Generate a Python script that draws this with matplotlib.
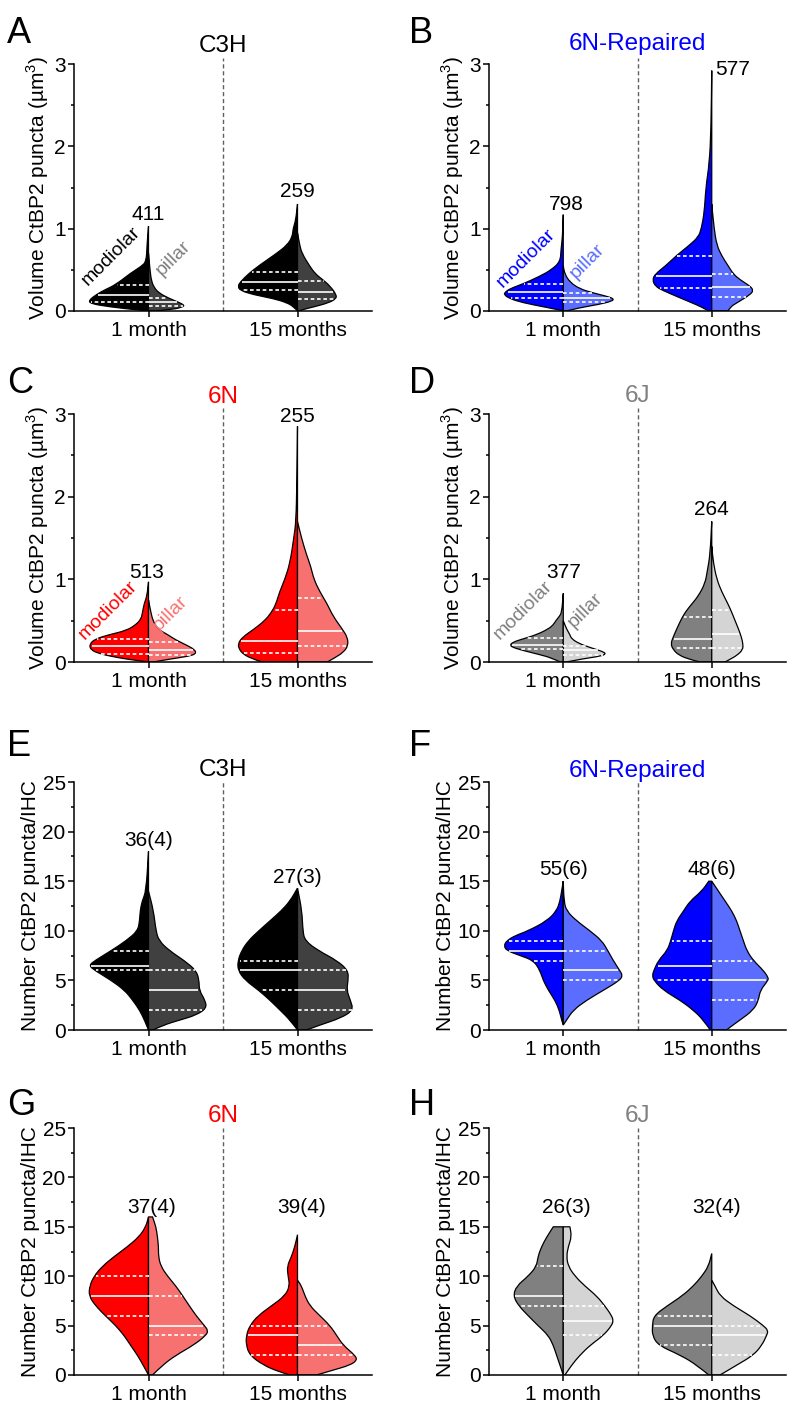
import numpy as np
import matplotlib
matplotlib.use('Agg')
import matplotlib.pyplot as plt
from matplotlib.path import Path
from matplotlib.patches import PathPatch
from matplotlib.ticker import MultipleLocator
import matplotlib.transforms as mtransforms

plt.rcParams['font.family'] = ['Liberation Sans', 'DejaVu Sans']
plt.rcParams['mathtext.fontset'] = 'custom'
plt.rcParams['mathtext.rm'] = 'Liberation Sans'

groups = ['1 month', '15 months']
strains = ['C3H', '6N-Repaired', '6N', '6J']
vol_counts = [['411', '259'], ['798', '577'], ['513', '255'], ['377', '264']]
num_counts = [['36(4)', '27(3)'], ['55(6)', '48(6)'], ['37(4)', '39(4)'], ['26(3)', '32(4)']]

# half-violin profiles: y levels (bottom -> top), half widths, quartiles [q1, median, q3]
# --- Volume, C3H
A1_mod_y = [0, 0.01, 0.05, 0.09, 0.13, 0.2, 0.26, 0.32, 0.46, 0.54, 0.6, 0.8, 1.03]
A1_mod_w = [0, 0.06, 0.26, 0.39, 0.40, 0.35, 0.29, 0.22, 0.12, 0.05, 0.015, 0.01, 0]
A1_mod_q = [0.11, 0.20, 0.32]
A1_pil_y = [0, 0.02, 0.05, 0.07, 0.1, 0.16, 0.22, 0.28, 0.36, 0.5, 0.7]
A1_pil_w = [0.04, 0.17, 0.23, 0.24, 0.21, 0.13, 0.07, 0.04, 0.02, 0.01, 0]
A1_pil_q = [0.065, 0.11, 0.16]
A2_mod_y = [0, 0.05, 0.1, 0.15, 0.2, 0.25, 0.3, 0.35, 0.45, 0.55, 0.7, 0.8, 0.9, 1.0, 1.1, 1.3]
A2_mod_w = [0, 0.025, 0.07, 0.16, 0.30, 0.385, 0.40, 0.385, 0.33, 0.26, 0.14, 0.07, 0.035, 0.03, 0.012, 0]
A2_mod_q = [0.25, 0.35, 0.47]
A2_pil_y = [0, 0.02, 0.05, 0.1, 0.15, 0.2, 0.3, 0.38, 0.45, 0.55, 0.7, 0.8, 0.95]
A2_pil_w = [0.01, 0.04, 0.11, 0.21, 0.26, 0.26, 0.22, 0.17, 0.12, 0.08, 0.03, 0.015, 0]
A2_pil_q = [0.15, 0.23, 0.36]
# --- Volume, 6N-Repaired
B1_mod_y = [0, 0.01, 0.05, 0.1, 0.15, 0.2, 0.23, 0.27, 0.33, 0.42, 0.5, 0.6, 0.75, 0.9, 1.17]
B1_mod_w = [0, 0.02, 0.13, 0.27, 0.36, 0.40, 0.39, 0.36, 0.27, 0.16, 0.08, 0.02, 0.015, 0.005, 0]
B1_mod_q = [0.155, 0.235, 0.33]
B1_pil_y = [0, 0.04, 0.08, 0.12, 0.15, 0.18, 0.22, 0.27, 0.35, 0.45, 0.55]
B1_pil_w = [0.02, 0.11, 0.24, 0.33, 0.34, 0.29, 0.2, 0.11, 0.045, 0.01, 0]
B1_pil_q = [0.105, 0.16, 0.22]
B2_mod_y = [0, 0.05, 0.1, 0.18, 0.25, 0.3, 0.38, 0.45, 0.55, 0.67, 0.8, 0.9, 1.0, 1.2, 1.5, 1.8, 2.2, 2.92]
B2_mod_w = [0.02, 0.07, 0.135, 0.24, 0.33, 0.38, 0.40, 0.38, 0.31, 0.24, 0.15, 0.09, 0.07, 0.05, 0.04, 0.016, 0.005, 0]
B2_mod_q = [0.28, 0.42, 0.67]
B2_pil_y = [0, 0.05, 0.1, 0.2, 0.25, 0.3, 0.38, 0.45, 0.55, 0.67, 0.8, 1.0, 1.3]
B2_pil_w = [0.11, 0.125, 0.17, 0.26, 0.28, 0.26, 0.19, 0.145, 0.11, 0.067, 0.034, 0.016, 0]
B2_pil_q = [0.175, 0.29, 0.45]
# --- Volume, 6N
C1_mod_y = [0, 0.02, 0.05, 0.1, 0.15, 0.22, 0.28, 0.33, 0.38, 0.45, 0.52, 0.6, 0.7, 0.8, 0.97]
C1_mod_w = [0, 0.085, 0.2, 0.33, 0.39, 0.395, 0.355, 0.265, 0.15, 0.085, 0.05, 0.04, 0.03, 0.01, 0]
C1_mod_q = [0.10, 0.19, 0.275]
C1_pil_y = [0, 0.04, 0.07, 0.1, 0.15, 0.2, 0.27, 0.33, 0.4, 0.5, 0.6, 0.75]
C1_pil_w = [0.03, 0.16, 0.27, 0.32, 0.31, 0.26, 0.18, 0.13, 0.06, 0.03, 0.016, 0]
C1_pil_q = [0.09, 0.15, 0.24]
C2_mod_y = [0, 0.05, 0.1, 0.15, 0.22, 0.3, 0.4, 0.5, 0.6, 0.7, 0.85, 1.0, 1.2, 1.5, 1.7, 2.2, 2.85]
C2_mod_w = [0.24, 0.32, 0.366, 0.39, 0.40, 0.37, 0.29, 0.22, 0.175, 0.145, 0.12, 0.085, 0.05, 0.025, 0.01, 0.004, 0]
C2_mod_q = [0.11, 0.25, 0.635]
C2_pil_y = [0, 0.05, 0.12, 0.2, 0.3, 0.4, 0.55, 0.7, 0.85, 1.0, 1.15, 1.3, 1.5, 1.7]
C2_pil_w = [0.2, 0.25, 0.31, 0.34, 0.335, 0.3, 0.24, 0.2, 0.15, 0.11, 0.09, 0.06, 0.027, 0]
C2_pil_q = [0.195, 0.375, 0.77]
# --- Volume, 6J
D1_mod_y = [0, 0.05, 0.09, 0.13, 0.17, 0.2, 0.24, 0.28, 0.33, 0.4, 0.45, 0.5, 0.55, 0.6, 0.83]
D1_mod_w = [0.02, 0.08, 0.16, 0.25, 0.33, 0.36, 0.34, 0.27, 0.18, 0.10, 0.067, 0.05, 0.027, 0.01, 0]
D1_mod_q = [0.16, 0.21, 0.29]
D1_pil_y = [0, 0.04, 0.07, 0.1, 0.13, 0.17, 0.22, 0.28, 0.33, 0.4, 0.5]
D1_pil_w = [0.02, 0.135, 0.25, 0.29, 0.26, 0.19, 0.11, 0.056, 0.045, 0.022, 0]
D1_pil_q = [0.09, 0.14, 0.19]
D2_mod_y = [0, 0.03, 0.08, 0.15, 0.22, 0.3, 0.4, 0.5, 0.6, 0.7, 0.8, 0.95, 1.1, 1.3, 1.7]
D2_mod_w = [0.08, 0.146, 0.22, 0.26, 0.276, 0.26, 0.236, 0.21, 0.18, 0.135, 0.09, 0.045, 0.03, 0.011, 0]
D2_mod_q = [0.17, 0.275, 0.55]
D2_pil_y = [0, 0.03, 0.08, 0.15, 0.22, 0.3, 0.4, 0.5, 0.6, 0.7, 0.85, 1.0, 1.2, 1.4]
D2_pil_w = [0.09, 0.12, 0.17, 0.21, 0.21, 0.2, 0.18, 0.157, 0.135, 0.11, 0.067, 0.034, 0.011, 0]
D2_pil_q = [0.17, 0.34, 0.625]
# --- Number, C3H
E1_mod_y = [0, 1, 2, 3, 4, 5, 6, 6.5, 7, 8, 9, 10, 11, 12, 13, 14, 18]
E1_mod_w = [0, 0.027, 0.06, 0.106, 0.16, 0.25, 0.36, 0.40, 0.36, 0.25, 0.15, 0.072, 0.06, 0.056, 0.043, 0.016, 0]
E1_mod_q = [6, 6.5, 8]
E1_pil_y = [0, 0.5, 1, 1.5, 2.2, 3, 4, 5, 6, 7, 8, 9, 10, 12, 14]
E1_pil_w = [0.03, 0.1, 0.21, 0.32, 0.39, 0.38, 0.34, 0.34, 0.32, 0.24, 0.14, 0.07, 0.05, 0.034, 0]
E1_pil_q = [2, 4, 6]
E2_mod_y = [0, 1, 2, 3, 4, 5, 6, 7, 8, 9, 10, 11, 12, 13, 14.3]
E2_mod_w = [0, 0.05, 0.117, 0.185, 0.26, 0.35, 0.40, 0.40, 0.375, 0.33, 0.26, 0.185, 0.11, 0.05, 0]
E2_mod_q = [4, 6, 7]
E2_pil_y = [0, 0.5, 1.2, 2, 3, 4, 5, 6, 7, 8, 9, 10, 12, 14.3]
E2_pil_w = [0.06, 0.15, 0.29, 0.375, 0.355, 0.33, 0.34, 0.34, 0.265, 0.14, 0.05, 0.036, 0.03, 0]
E2_pil_q = [2, 4, 6]
# --- Number, 6N-Repaired
F1_mod_y = [0.5, 1, 2, 3, 4, 5, 6, 7, 7.5, 8, 8.5, 9, 9.5, 10, 11, 12, 13, 14, 15]
F1_mod_w = [0, 0.011, 0.027, 0.056, 0.1, 0.135, 0.157, 0.2, 0.29, 0.38, 0.40, 0.38, 0.326, 0.236, 0.11, 0.045, 0.022, 0.011, 0]
F1_mod_q = [7, 8, 9]
F1_pil_y = [0.5, 1, 2, 3, 4, 5, 5.5, 6, 7, 8, 9, 10, 11, 12, 13, 15]
F1_pil_w = [0, 0.022, 0.067, 0.157, 0.27, 0.38, 0.40, 0.38, 0.337, 0.3, 0.26, 0.18, 0.09, 0.022, 0.005, 0]
F1_pil_q = [5, 6, 8]
F2_mod_y = [0, 1, 2, 3, 4, 5, 5.5, 6, 7, 8, 9, 10, 11, 12, 13, 14, 15]
F2_mod_w = [0.01, 0.056, 0.124, 0.213, 0.326, 0.39, 0.40, 0.39, 0.36, 0.3, 0.276, 0.258, 0.236, 0.19, 0.146, 0.067, 0.02]
F2_mod_q = [5, 6.5, 9]
F2_pil_y = [0, 0.3, 1, 2, 3, 4, 5, 5.3, 6, 7, 8, 9, 10, 11, 12, 13, 14, 15]
F2_pil_w = [0.1, 0.124, 0.19, 0.28, 0.315, 0.326, 0.38, 0.38, 0.348, 0.28, 0.236, 0.213, 0.19, 0.168, 0.135, 0.09, 0.045, 0]
F2_pil_q = [3, 5, 7]
# --- Number, 6N
G1_mod_y = [0, 1, 2, 3, 4, 5, 6, 7, 8, 9, 10, 11, 12, 13, 14, 15, 16]
G1_mod_w = [0, 0.036, 0.074, 0.12, 0.164, 0.22, 0.29, 0.355, 0.40, 0.395, 0.366, 0.31, 0.23, 0.14, 0.063, 0.018, 0]
G1_mod_q = [6, 8, 10]
G1_pil_y = [0, 1, 2, 3, 4, 4.5, 5, 6, 7, 8, 9, 10, 11, 12, 13, 14, 15, 16]
G1_pil_w = [0.027, 0.094, 0.184, 0.3, 0.386, 0.40, 0.375, 0.32, 0.274, 0.23, 0.184, 0.128, 0.083, 0.067, 0.067, 0.06, 0.05, 0.027]
G1_pil_q = [4, 5, 8]
G2_mod_y = [0, 0.3, 1, 2, 3, 4, 5, 6, 7, 8, 9, 10, 11, 12, 13, 14.2]
G2_mod_w = [0.05, 0.12, 0.23, 0.32, 0.344, 0.344, 0.32, 0.265, 0.175, 0.085, 0.052, 0.063, 0.07, 0.04, 0.018, 0]
G2_mod_q = [2, 4, 5]
G2_pil_y = [0, 0.5, 1, 1.5, 2, 3, 4, 5, 6, 7, 8, 9, 9.6]
G2_pil_w = [0.128, 0.24, 0.353, 0.40, 0.386, 0.307, 0.263, 0.218, 0.15, 0.083, 0.05, 0.027, 0]
G2_pil_q = [2, 3, 5]
# --- Number, 6J
H1_mod_y = [0, 1, 2, 3, 4, 5, 6, 7, 8, 9, 10, 11, 12, 13, 14, 15]
H1_mod_w = [0, 0.022, 0.045, 0.067, 0.1, 0.17, 0.236, 0.3, 0.337, 0.315, 0.236, 0.18, 0.17, 0.146, 0.11, 0.067]
H1_mod_q = [7, 8, 11]
H1_pil_y = [0, 1, 2, 3, 4, 5, 5.5, 6, 7, 8, 9, 10, 11, 12, 13, 14, 15]
H1_pil_w = [0.011, 0.056, 0.112, 0.18, 0.27, 0.326, 0.337, 0.326, 0.28, 0.225, 0.146, 0.079, 0.034, 0.022, 0.034, 0.056, 0.045]
H1_pil_q = [4, 5.5, 7]
H2_mod_y = [0, 1, 2, 3, 4, 5, 6, 7, 8, 9, 10, 11, 12.3]
H2_mod_w = [0.02, 0.1, 0.21, 0.36, 0.40, 0.40, 0.39, 0.3, 0.2, 0.124, 0.067, 0.022, 0]
H2_mod_q = [3, 5, 6]
H2_pil_y = [0, 1, 2, 3, 4, 4.5, 5, 6, 7, 8, 9, 9.6]
H2_pil_w = [0.056, 0.168, 0.28, 0.337, 0.37, 0.38, 0.348, 0.258, 0.146, 0.056, 0.022, 0]
H2_pil_q = [2, 4, 5]

# colours per strain: modiolar fill, pillar fill, title, modiolar label, pillar label
mod_colors = ['#000000', '#0000FF', '#FF0000', '#808080']
pil_colors = ['#404040', '#5A6DFF', '#F87171', '#D4D4D4']
title_colors = ['#000000', '#0000FF', '#FF0000', '#808080']
modlab_colors = ['#000000', '#0000FF', '#FF0000', '#808080']
pillab_colors = ['#808080', '#5A6DFF', '#F87171', '#808080']

V = {}
for g in 'ABCDEFGH':
    for k in (1, 2):
        for s in ('mod', 'pil'):
            V[(g, k, s)] = (globals()[f'{g}{k}_{s}_y'], globals()[f'{g}{k}_{s}_w'], globals()[f'{g}{k}_{s}_q'])

# ---- layout (pixels of the 800x1411 figure) ----
W, H = 800, 1411
col_x = [(74, 372), (489, 786)]
row_y = [(64, 311), (414, 662), (782, 1030), (1128, 1375)]
title_off = [12, 14, 11, 12, 6, 5, 6, 6]
letter_base = [43, 43, 393, 393, 756, 756, 1115, 1115]
count_pos = [[(0.0, 1.1, 'center'), (1.0, 1.39, 'center')],
             [(0.02, 1.23, 'center'), (1.02, 2.87, 'left')],
             [(-0.01, 1.02, 'center'), (1.0, 2.9, 'center')],
             [(0.0, 1.02, 'center'), (1.0, 1.78, 'center')],
             [(0.0, 18.5, 'center'), (1.0, 14.8, 'center')],
             [(0.0, 15.65, 'center'), (1.0, 15.65, 'center')],
             [(0.02, 16.4, 'center'), (1.03, 16.4, 'center')],
             [(0.02, 16.4, 'center'), (1.03, 16.4, 'center')]]
side_lab_pos = [[(-0.25, 0.66), (0.17, 0.64)],
                [(-0.25, 0.64), (0.16, 0.61)],
                [(-0.27, 0.63), (0.15, 0.59)],
                [(-0.27, 0.63), (0.15, 0.62)]]


def half_violin(ax, x0, ys, ws, side, color):
    ys = np.asarray(ys, float)
    xs = x0 + side * np.asarray(ws, float)
    pts = np.column_stack([xs, ys])
    verts = [(x0, ys[0]), tuple(pts[0])]
    codes = [Path.MOVETO, Path.LINETO]
    for i in range(1, len(pts) - 1):
        mid = (pts[i] + pts[i + 1]) / 2
        verts += [tuple(pts[i]), tuple(mid)]
        codes += [Path.CURVE3, Path.CURVE3]
    verts += [tuple(pts[-1]), (x0, ys[-1]), (x0, ys[0])]
    codes += [Path.LINETO, Path.LINETO, Path.CLOSEPOLY]
    ax.add_patch(PathPatch(Path(verts, codes), facecolor=color, edgecolor='black', lw=0.9, zorder=2))


def quartiles(ax, x0, ys, ws, qs, side):
    for i, q in enumerate(qs):
        w = np.interp(q, ys, ws) * 0.97
        ls = '-' if i == 1 else (0, (2.2, 1.6))
        ax.plot([x0, x0 + side * w], [q, q], color='white', lw=1.2, ls=ls, zorder=3,
                solid_capstyle='butt', dash_capstyle='butt')


fig = plt.figure(figsize=(W / 100, H / 100), dpi=100)
letters = 'ABCDEFGH'
for p in range(8):
    r, c = divmod(p, 2)
    x0, x1 = col_x[c]
    yt, yb = row_y[r]
    ax = fig.add_axes([x0 / W, 1 - yb / H, (x1 - x0) / W, (yb - yt) / H])
    si = p % 4
    g = letters[p]
    volume = p < 4
    for k in range(2):
        for s, side, col in (('mod', -1, mod_colors[si]), ('pil', 1, pil_colors[si])):
            ys, ws, qs = V[(g, k + 1, s)]
            half_violin(ax, k, ys, ws, side, col)
            quartiles(ax, k, ys, ws, qs, side)
    ymax = 3 if volume else 25
    ax.set_xlim(-0.5, 1.5)
    ax.set_ylim(0, ymax)
    ax.plot([0.5, 0.5], [0, ymax * (1.025 if volume else 1.0)], color='#606060', lw=1,
            ls=(0, (3, 2)), clip_on=False, zorder=1)
    for sp in ('top', 'right'):
        ax.spines[sp].set_visible(False)
    for sp in ('left', 'bottom'):
        ax.spines[sp].set_linewidth(1.1)
    ax.yaxis.set_major_locator(MultipleLocator(1 if volume else 5))
    ax.yaxis.set_minor_locator(MultipleLocator(0.5 if volume else 2.5))
    ax.set_xticks([0, 1])
    ax.set_xticklabels(groups)
    ax.tick_params(axis='both', which='major', labelsize=15, length=4, width=1.1, pad=2)
    ax.tick_params(axis='y', which='minor', length=2.5, width=1.1)
    ax.tick_params(axis='x', pad=3)
    if volume:
        ax.set_ylabel('Volume CtBP2 puncta (µm$^3$)', fontsize=15, labelpad=2)
    else:
        ax.set_ylabel('Number CtBP2 puncta/IHC', fontsize=15, labelpad=2)
    # strain title above divider
    ax.annotate(strains[si], xy=(0.5, 1), xycoords=('data', 'axes fraction'),
                xytext=(0, title_off[p] * 0.72), textcoords='offset points',
                ha='center', va='baseline', fontsize=17.5, color=title_colors[si])
    labels = vol_counts[si] if volume else num_counts[si]
    for k in range(2):
        cx, cy, ha = count_pos[p][k]
        ax.text(cx, cy, labels[k], ha=ha, va='baseline', fontsize=15, zorder=4)
    if volume:
        (mx, my), (px, py) = side_lab_pos[si]
        ax.text(mx, my, 'modiolar', rotation=45, rotation_mode='anchor', ha='center', va='center',
                fontsize=14, color=modlab_colors[si], zorder=4)
        ax.text(px, py, 'pillar', rotation=45, rotation_mode='anchor', ha='center', va='center',
                fontsize=14, color=pillab_colors[si], zorder=4)
    lx = 7 if c == 0 else 409
    fig.text(lx / W, 1 - letter_base[p] / H, g, fontsize=26, ha='left', va='baseline')

fig.savefig('out.png', dpi=100)
